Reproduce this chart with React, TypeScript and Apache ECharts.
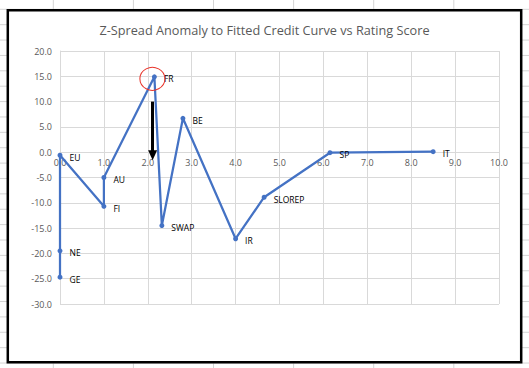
import React, { useEffect, useRef } from "react";
import * as echarts from "echarts";

const pointNames = ["GE", "NE", "EU", "FI", "AU", "FR", "SWAP", "BE", "IR", "SLOREP", "SP", "IT"];
const ratingScore = [0.0, 0.0, 0.0, 1.0, 1.0, 2.15, 2.32, 2.8, 4.0, 4.65, 6.15, 8.5];
const zSpreadAnomaly = [-24.7, -19.5, -0.6, -10.7, -5.0, 14.9, -14.5, 6.7, -17.1, -8.9, -0.1, 0.1];

const xTicks = { min: 0, max: 10, interval: 1 };
const yTicks = { min: -30, max: 20, interval: 5 };

// annotations (in data units)
const arrowX = 2.11;
const arrowFromY = 10.0;
const arrowToY = -0.6;
const circleCenter = [2.15, 14.9];

const W = 529;
const H = 368;
const GRID = { left: 60, right: 30, top: 51, bottom: 64 };

export default function App() {
  const ref = useRef<HTMLDivElement>(null);
  useEffect(() => {
    if (!ref.current) return;
    const chart = echarts.init(ref.current, undefined, { renderer: "svg", width: W, height: H });

    const sheetLines: any[] = [];
    for (let k = 0; k < 6; k++) {
      const x = 53.3 + 80.1 * k;
      sheetLines.push({
        type: "line",
        z: -20,
        shape: { x1: x, y1: 0, x2: x, y2: H },
        style: { stroke: "#d4d4d4", lineWidth: 1 },
      });
    }
    for (let k = 0; k < 24; k++) {
      const y = 9.3 + 15.38 * k;
      sheetLines.push({
        type: "line",
        z: -20,
        shape: { x1: 0, y1: y, x2: W, y2: y },
        style: { stroke: "#d4d4d4", lineWidth: 1 },
      });
    }

    const plotH = H - GRID.top - GRID.bottom;
    const zeroOffset = -plotH * (0 - yTicks.min) / (yTicks.max - yTicks.min);

    const data = ratingScore.map((x, i) => ({ value: [x, zSpreadAnomaly[i]], name: pointNames[i] }));

    chart.setOption({
      animation: false,
      backgroundColor: "#ffffff",
      title: {
        text: "Z-Spread Anomaly to Fitted Credit Curve vs Rating Score",
        left: "center",
        top: 18,
        textStyle: {
          fontFamily: "Open Sans",
          fontSize: 12.7,
          fontWeight: "normal",
          color: "#595959",
        },
      },
      graphic: [
        ...sheetLines,
        {
          type: "rect",
          z: -10,
          shape: { x: 7.8, y: 10.2, width: 521.2 - 7.8, height: 362.2 - 10.2 },
          style: { fill: "#ffffff", stroke: "#000000", lineWidth: 2.5 },
        },
      ],
      grid: GRID,
      xAxis: {
        type: "value",
        min: xTicks.min,
        max: xTicks.max,
        interval: xTicks.interval,
        position: "bottom",
        offset: zeroOffset,
        axisLine: { show: true, onZero: false, lineStyle: { color: "#d9d9d9", width: 1 } },
        axisTick: { show: false },
        axisLabel: {
          formatter: (v: number) => v.toFixed(1),
          fontFamily: "Open Sans",
          fontSize: 9,
          color: "#595959",
          margin: 6,
        },
        splitLine: { show: true, lineStyle: { color: "#d9d9d9", width: 1 } },
      },
      yAxis: {
        type: "value",
        min: yTicks.min,
        max: yTicks.max,
        interval: yTicks.interval,
        axisLine: { show: true, onZero: false, lineStyle: { color: "#d9d9d9", width: 1 } },
        axisTick: { show: false },
        axisLabel: {
          formatter: (v: number) => v.toFixed(1),
          fontFamily: "Open Sans",
          fontSize: 9,
          color: "#595959",
          margin: 8,
        },
        splitLine: { show: true, lineStyle: { color: "#d9d9d9", width: 1 } },
      },
      series: [
        {
          type: "line",
          data,
          symbol: "circle",
          symbolSize: 5,
          lineStyle: { color: "#4472C4", width: 2.25 },
          itemStyle: { color: "#4472C4" },
          label: {
            show: true,
            position: "right",
            distance: 7,
            offset: [0, 2],
            formatter: (p: any) => p.name,
            fontFamily: "Open Sans",
            fontSize: 8.5,
            color: "#000000",
          },
          markLine: {
            silent: true,
            symbol: ["none", "triangle"],
            symbolSize: [9, 10],
            label: { show: false },
            lineStyle: { color: "#000000", width: 3, type: "solid" },
            data: [[{ coord: [arrowX, arrowFromY] }, { coord: [arrowX, arrowToY] }]],
          },
          markPoint: {
            silent: true,
            symbol: "circle",
            symbolSize: [25, 23],
            symbolOffset: [-2, 2],
            label: { show: false },
            itemStyle: { color: "rgba(0,0,0,0)", borderColor: "#e8332a", borderWidth: 1 },
            data: [{ coord: circleCenter }],
          },
        },
      ],
    });
    return () => chart.dispose();
  }, []);
  return <div ref={ref} style={{ position: "fixed", left: 0, top: 0, width: W, height: H }} />;
}
